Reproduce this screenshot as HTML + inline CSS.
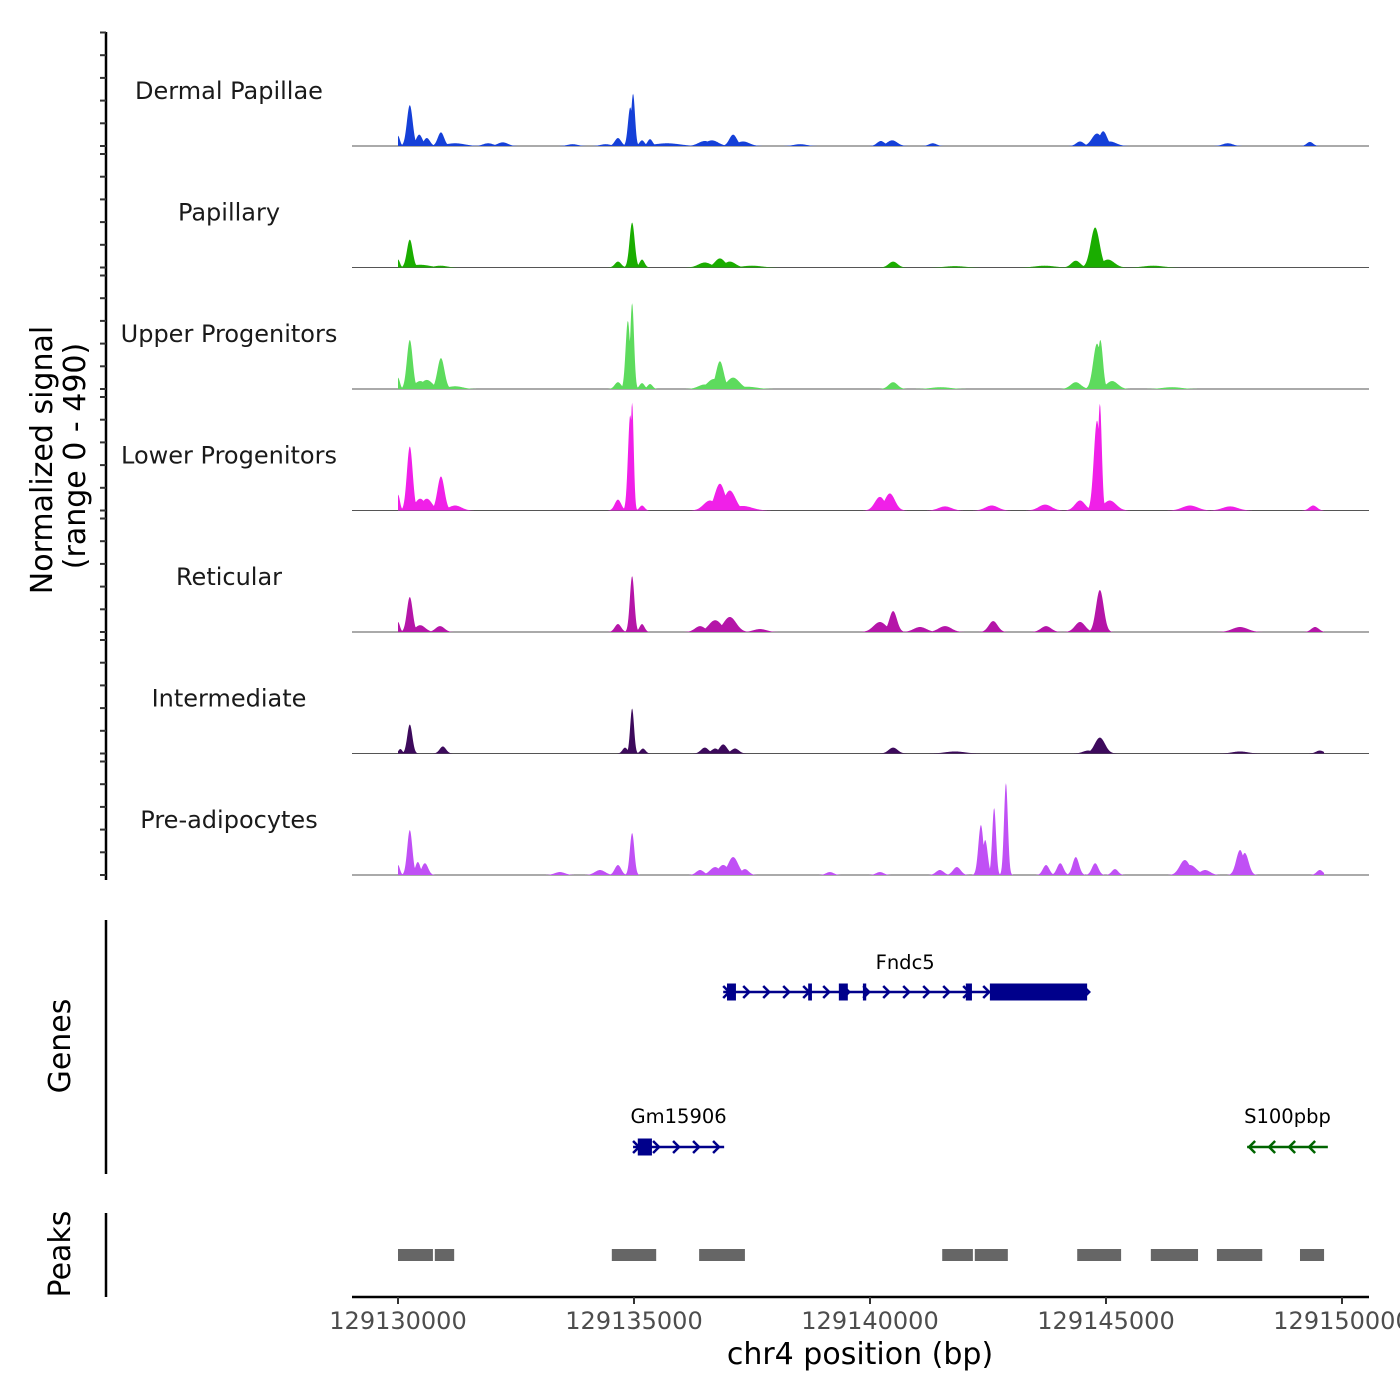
<!DOCTYPE html>
<html><head><meta charset="utf-8"><style>
html,body{margin:0;padding:0;background:#fff;}
svg{display:block;font-family:"DejaVu Sans","Liberation Sans",sans-serif;}
</style></head><body>
<svg id="chart" width="1400" height="1400" viewBox="0 0 1400 1400" xmlns="http://www.w3.org/2000/svg">
<g id="tracks"></g>
<g id="yaxis"></g>
<text transform="translate(52,460) rotate(-90)" text-anchor="middle" font-size="30" fill="#000">Normalized signal</text>
<text transform="translate(85,456) rotate(-90)" text-anchor="middle" font-size="30" fill="#000">(range 0 - 490)</text>
<line x1="106" y1="920" x2="106" y2="1174" stroke="#000" stroke-width="2.5"/>
<text transform="translate(70,1046) rotate(-90)" text-anchor="middle" font-size="30" fill="#000">Genes</text>
<g id="genes"></g>
<line x1="106" y1="1213" x2="106" y2="1297" stroke="#000" stroke-width="2.5"/>
<text transform="translate(70,1254) rotate(-90)" text-anchor="middle" font-size="30" fill="#000">Peaks</text>
<g id="peaks"></g>
<g id="xaxis"></g>
<text x="860" y="1364" text-anchor="middle" font-size="30" fill="#000">chr4 position (bp)</text>
</svg>
<script>
// ---- data ----
const regionStart = 129130000;
const xTicks = [129130000, 129135000, 129140000, 129145000, 129150000];
const trackNames = ["Dermal Papillae","Papillary","Upper Progenitors","Lower Progenitors","Reticular","Intermediate","Pre-adipocytes"];
const trackColors = ["#1540d8","#1aad00","#5ddb5d","#f020e8","#b515a8","#3d0a5c","#c050f5"];
const yTicks = [0,100,200,300,400,500];
// peaks per track: [kb offset from region start, signal height, width bp]
const sigDermal = [[0,45,30],[0.25,180,45],[0.45,50,50],[0.61,35,50],[0.91,60,50],[1.21,12,150],[1.91,12,80],[2.22,16,80],[3.7,8,80],[4.4,8,80],[4.66,35,50],[4.92,170,35],[4.98,230,30],[5.17,25,40],[5.34,30,40],[5.7,12,200],[6.5,22,100],[6.65,25,100],[7.10,50,60],[7.31,20,100],[8.52,8,100],[10.23,22,60],[10.47,25,80],[11.33,12,60],[14.45,20,60],[14.81,55,80],[14.94,65,60],[15.08,20,100],[17.58,12,80],[19.32,18,50]];
const sigPapillary = [[0,35,30],[0.25,123,45],[0.47,12,150],[0.9,8,100],[4.66,26,50],[4.96,198,40],[5.17,35,40],[6.5,22,100],[6.82,40,80],[7.03,26,90],[7.5,8,150],[10.49,26,70],[11.8,6,150],[13.7,8,150],[14.36,30,70],[14.77,176,70],[15.04,35,100],[16.0,8,150]];
const sigUpper = [[0,50,30],[0.25,216,45],[0.47,35,90],[0.61,40,90],[0.91,136,55],[1.21,12,120],[4.66,30,50],[4.87,300,35],[4.96,378,30],[5.17,26,40],[5.34,22,40],[6.5,20,100],[6.69,44,100],[6.82,122,60],[7.10,50,100],[7.4,10,150],[10.49,30,70],[11.5,8,150],[14.36,30,80],[14.81,200,60],[14.88,216,40],[15.13,35,90],[16.4,8,150]];
const sigLower = [[0,70,30],[0.25,282,45],[0.47,52,80],[0.61,52,80],[0.91,150,55],[1.21,22,100],[4.66,48,50],[4.92,420,35],[4.96,475,25],[5.17,22,40],[6.61,44,100],[6.82,118,80],[7.03,88,90],[7.3,20,150],[10.21,60,80],[10.42,75,80],[11.59,18,100],[12.58,22,100],[13.71,26,100],[14.45,44,80],[14.81,396,50],[14.87,470,30],[15.08,44,100],[16.78,22,120],[17.63,18,120],[19.39,22,60]];
const sigReticular = [[0,44,30],[0.25,154,45],[0.47,30,80],[0.89,26,70],[4.66,35,50],[4.96,246,35],[5.17,35,40],[6.40,26,80],[6.72,52,100],[7.03,66,100],[7.67,13,100],[10.21,44,100],[10.49,92,60],[11.06,22,100],[11.59,26,100],[12.61,48,70],[13.73,26,80],[14.45,44,80],[14.87,185,60],[17.84,22,120],[19.43,22,60]];
const sigIntermediate = [[0.05,20,30],[0.25,128,40],[0.95,31,50],[4.81,26,40],[4.96,198,30],[5.19,22,40],[6.50,26,60],[6.72,22,60],[6.89,40,60],[7.14,22,60],[10.49,26,70],[11.80,9,150],[14.62,13,80],[14.87,70,80],[17.84,9,120],[19.53,13,60]];
const sigPreadipo = [[0,44,30],[0.25,198,40],[0.42,57,40],[0.57,52,50],[3.43,13,80],[4.28,22,80],[4.66,44,50],[4.96,185,35],[6.40,22,60],[6.72,35,80],[6.89,44,80],[7.10,79,80],[7.35,26,60],[9.15,13,60],[10.21,13,60],[11.48,22,60],[11.84,35,60],[12.35,220,40],[12.44,154,40],[12.63,295,30],[12.88,405,30],[13.73,44,50],[14.03,52,50],[14.36,79,50],[14.77,52,50],[15.19,26,50],[16.67,66,80],[16.78,44,100],[17.10,22,80],[17.84,110,60],[17.94,97,60],[19.53,22,50]];
const trackSignals = [sigDermal,sigPapillary,sigUpper,sigLower,sigReticular,sigIntermediate,sigPreadipo];
const dataEndKb = 19.62;
// genes
const geneNames = ["Fndc5","Gm15906","S100pbp"];
const geneSpans = [[6.89,14.60],[4.98,6.91],[17.99,19.70]];
const geneStrands = [1,1,-1];
const geneRows = [0,1,1];
const geneColors = ["#00008b","#00008b","#006400"];
const geneExons = [[[6.97,7.16],[8.69,8.77],[9.34,9.53],[9.85,9.92],[12.03,12.16],[12.54,14.60]],[[5.08,5.38]],[]];
// peak regions kb
const peakRegions = [[0,0.74],[0.78,1.19],[4.53,5.47],[6.38,7.35],[11.53,12.18],[12.22,12.92],[14.39,15.32],[15.95,16.95],[17.35,18.31],[19.11,19.62]];

// ---- scales ----
const NS = "http://www.w3.org/2000/svg";
const xScale = kb => 398 + kb * 47.2;
const xBp = bp => xScale((bp - regionStart) / 1000);
const baselines = [146,267.5,389,510.5,632,753.5,875];
const yUnit = 0.227;
const widthFactor = 1.35;
function mk(tag, attrs, parent){const e=document.createElementNS(NS,tag);for(const k in attrs)e.setAttribute(k,attrs[k]);parent.appendChild(e);return e;}

// ---- tracks ----
const tracksG = document.getElementById('tracks');
trackSignals.forEach((sig, i) => {
  const base = baselines[i];
  const g = mk('g', {}, tracksG);
  
  
  const bl = mk('line', {x1:352,x2:1369,y1:base,y2:base,stroke:'#555','stroke-width':1}, g);
  
  
  let d = 'M' + xScale(0) + ',' + base;
  for (let kb = 0; kb <= dataEndKb + 1e-9; kb += 0.01) {
    let v = 0;
    sig.forEach(p => { const dx = (kb - p[0]) * 1000 / (p[2] * widthFactor); v = Math.max(v, p[1] * Math.exp(-0.5 * dx * dx)); });
    d += 'L' + xScale(kb).toFixed(2) + ',' + (base - v * yUnit).toFixed(2);
  }
  d += 'L' + xScale(dataEndKb) + ',' + base + 'Z';
  const area = mk('path', {d:d, fill:trackColors[i]}, g);
  
  
  const lab = mk('text', {x:229, y:base-47, 'text-anchor':'middle', 'font-size':24, fill:'#1a1a1a'}, g);
  lab.textContent = trackNames[i];
  
  
});

// ---- y axis ----
const ya = document.getElementById('yaxis');
mk('line', {x1:106,x2:106,y1:32,y2:880,stroke:'#000','stroke-width':2.5}, ya);
baselines.forEach(base => {
  yTicks.forEach(t => {
    const y = base - t * yUnit;
    const tk = mk('line', {x1:100,x2:106,y1:y,y2:y,stroke:'#333','stroke-width':2}, ya);
    
    
  });
});

// ---- genes ----
const gG = document.getElementById('genes');
const rowY = [992, 1147];
const labY = [969, 1123];
geneNames.forEach((nm, i) => {
  const y = rowY[geneRows[i]], c = geneColors[i];
  const g = mk('g', {}, gG);
  
  
  const x1 = xScale(geneSpans[i][0]), x2 = xScale(geneSpans[i][1]);
  mk('line', {x1:x1,x2:x2,y1:y,y2:y,stroke:c,'stroke-width':2.5}, g);
  const step = 20;
  for (let x = x1 + 4; x <= x2 + 1; x += step) {
    const s = geneStrands[i];
    mk('polyline', {points:`${x-4*s},${y-6} ${x+2*s},${y} ${x-4*s},${y+6}`, fill:'none', stroke:c, 'stroke-width':2.5}, g);
  }
  geneExons[i].forEach(ex => {
    const r = mk('rect', {x:xScale(ex[0]), y:y-8.5, width:xScale(ex[1])-xScale(ex[0]), height:17, fill:c}, g);
    
    
  });
  const t = mk('text', {x:(x1+x2)/2, y:labY[geneRows[i]], 'text-anchor':'middle', 'font-size':19.5, fill:'#000'}, g);
  t.textContent = nm;
  
  
});

// ---- peaks ----
const pG = document.getElementById('peaks');
peakRegions.forEach(p => {
  const r = mk('rect', {x:xScale(p[0]), y:1249, width:xScale(p[1])-xScale(p[0]), height:12, fill:'#666'}, pG);
  
  
});

// ---- x axis ----
const xa = document.getElementById('xaxis');
mk('line', {x1:352,x2:1369,y1:1297,y2:1297,stroke:'#000','stroke-width':2.5}, xa);
xTicks.forEach(t => {
  const x = xBp(t);
  mk('line', {x1:x,x2:x,y1:1297,y2:1304,stroke:'#333','stroke-width':2}, xa);
  const lb = mk('text', {x:x, y:1329, 'text-anchor':'middle', 'font-size':24, fill:'#4d4d4d'}, xa);
  lb.textContent = t;
  
  
});
</script>
</body></html>
